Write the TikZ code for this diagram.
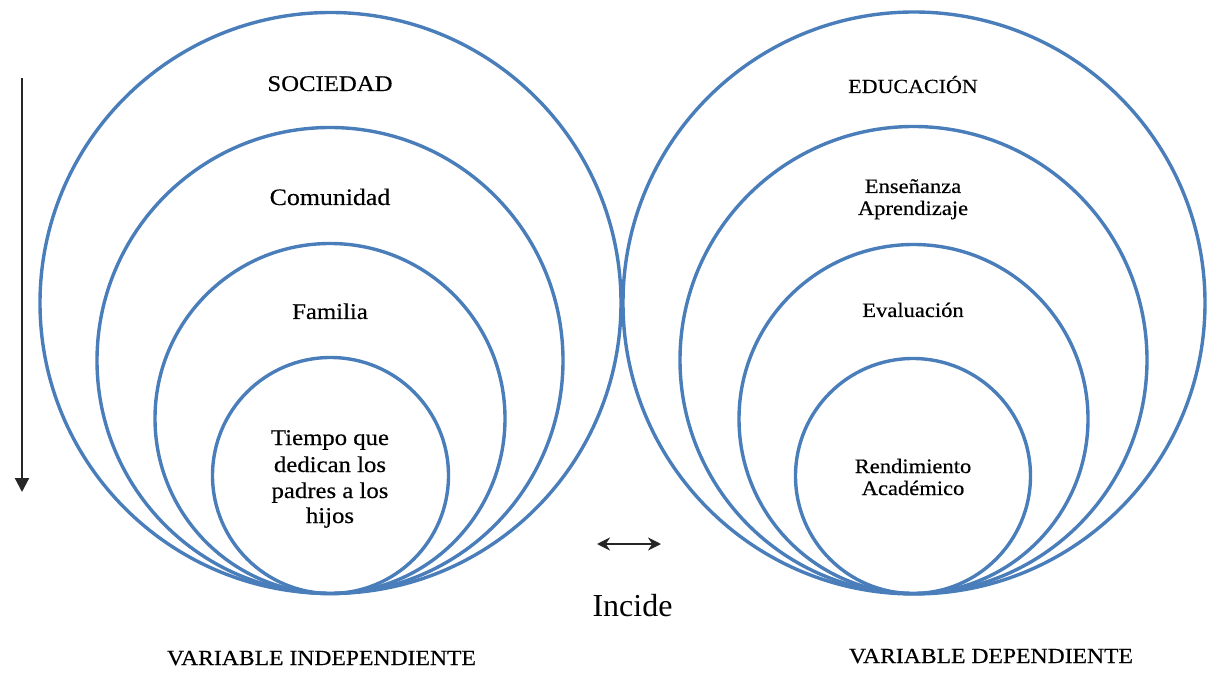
\documentclass[tikz,border=0pt]{standalone}
\usepackage{fontspec}
\setmainfont{Liberation Serif}
\newfontfamily\lbl[FakeStretch=1.1,FakeBold=0.4]{Liberation Serif}
\usetikzlibrary{arrows.meta}
\definecolor{ringblue}{RGB}{74,126,187}
\begin{document}
\begin{tikzpicture}[x=1pt,y=1pt,
  ringc/.style={circle,draw=ringblue,line width=3.4pt,inner sep=0pt,outer sep=0pt,minimum size=#1},
  lab/.style={anchor=base,inner sep=0pt,font=\lbl\fontsize{#1}{#1}\selectfont},
  arr/.style={line width=2.2pt,black!85},
]
\useasboundingbox (0,0) rectangle (1229,673);
% left set of circles
\node[ringc=581pt] (L1) at (330.5,370) {};
\node[ringc=466pt] (L2) at (330,312.5) {};
\node[ringc=350pt] (L3) at (330,254.5) {};
\node[ringc=236pt] (L4) at (330.5,197.5) {};
% right set of circles
\node[ringc=582pt] (R1) at (914,370) {};
\node[ringc=467pt] (R2) at (913.5,313) {};
\node[ringc=349pt] (R3) at (913.5,254) {};
\node[ringc=235pt] (R4) at (913,197) {};
% left labels
\node[lab=22.5] (soc) at (330,582) {SOCIEDAD};
\node[lab=23.5] (com) at (330,468) {Comunidad};
\node[lab=22.5] (fam) at (330,354) {Familia};
\node[lab=22.5] (t1) at (330,228) {Tiempo que};
\node[lab=22.5] (t2) at (330,201) {dedican los};
\node[lab=22.5] (t3) at (330,175) {padres a los};
\node[lab=22.5] (t4) at (330,150) {hijos};
% right labels
\node[lab=20] (edu) at (913,580) {EDUCACIÓN};
\node[lab=20.5] (ens) at (913,480) {Enseñanza};
\node[lab=20.5] (apr) at (913,458) {Aprendizaje};
\node[lab=20.5] (eva) at (913,356) {Evaluación};
\node[lab=20.5] (ren) at (913,200) {Rendimiento};
\node[lab=20.5] (aca) at (913,178) {Académico};
% bottom labels
\node[anchor=base,inner sep=0pt,font=\fontsize{32}{32}\selectfont] (inc) at (632.5,57) {Incide};
\node[lab=21.5] (vi) at (321.5,8) {VARIABLE INDEPENDIENTE};
\node[lab=21.5] (vd) at (991,10) {VARIABLE DEPENDIENTE};
% arrows
\coordinate (vs) at (22,595);
\coordinate (ve) at (22,181);
\draw[arr,-{Triangle[length=14pt,width=14pt]}] (vs) -- (ve);
\coordinate (ds) at (597,129);
\coordinate (de) at (661,129);
\draw[arr,{Stealth[length=13pt,width=13pt]}-{Stealth[length=13pt,width=13pt]}] (ds) -- (de);
\end{tikzpicture}
\end{document}
